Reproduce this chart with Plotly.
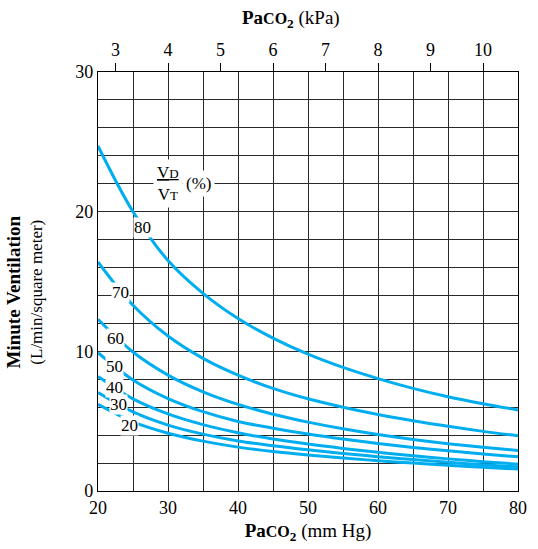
import plotly.graph_objects as go

# Arterial PCO2 (mm Hg) sample points
paco2_mmhg = [20, 25, 30, 35, 40, 45, 50, 55, 60, 65, 70, 75, 80]

# Minute ventilation (L/min/square meter) for each dead-space fraction VD/VT (%)
ve_80 = [24.7, 20.0, 16.5, 14.15, 12.35, 10.95, 9.8, 8.85, 8.05, 7.35, 6.75, 6.25, 5.8]
ve_70 = [16.4, 13.3, 11.1, 9.5, 8.3, 7.35, 6.6, 6.0, 5.48, 5.03, 4.63, 4.27, 3.95]
ve_60 = [12.3, 9.95, 8.3, 7.1, 6.2, 5.5, 4.93, 4.45, 4.04, 3.69, 3.39, 3.13, 2.9]
ve_50 = [9.9, 7.95, 6.62, 5.68, 4.98, 4.5, 4.08, 3.72, 3.4, 3.12, 2.88, 2.65, 2.45]
ve_40 = [8.2, 6.6, 5.52, 4.75, 4.17, 3.72, 3.36, 3.05, 2.77, 2.52, 2.3, 2.1, 1.92]
ve_30 = [7.05, 5.66, 4.72, 4.07, 3.58, 3.24, 2.95, 2.69, 2.46, 2.25, 2.06, 1.88, 1.72]
ve_20 = [6.2, 4.95, 4.14, 3.57, 3.14, 2.82, 2.57, 2.36, 2.17, 2.0, 1.84, 1.7, 1.57]

vd_vt_labels = ["80", "70", "60", "50", "40", "30", "20"]
series = [ve_80, ve_70, ve_60, ve_50, ve_40, ve_30, ve_20]

# Where each curve carries its VD/VT label (mm Hg, L/min/m2)
label_x = [26.3, 23.2, 22.5, 22.4, 22.4, 22.9, 24.5]
label_y = [18.9, 14.2, 10.95, 8.95, 7.4, 6.2, 4.72]

# Secondary axis in kPa
kpa_ticks = [3, 4, 5, 6, 7, 8, 9, 10]
MMHG_PER_KPA = 7.5

mm_ticks = [20, 30, 40, 50, 60, 70, 80]
ve_ticks = [0, 10, 20, 30]

CURVE = "#00AEEF"
GRID = "#2a2a2a"
FONT = "Liberation Serif"
PACO2 = "<b>Pa<span style='font-size:16px'>CO</span><sub>2</sub></b>"

fig = go.Figure()

for vals in series:
    fig.add_trace(go.Scatter(
        x=paco2_mmhg, y=vals, mode="lines",
        line=dict(color=CURVE, width=3, shape="spline", smoothing=1.0),
        hoverinfo="skip", showlegend=False,
    ))

# invisible trace to carry the kPa axis
fig.add_trace(go.Scatter(
    x=[paco2_mmhg[0] / MMHG_PER_KPA, paco2_mmhg[-1] / MMHG_PER_KPA],
    y=[ve_ticks[0], ve_ticks[0]], xaxis="x2", mode="markers",
    marker=dict(opacity=0), hoverinfo="skip", showlegend=False,
))

annotations = []
for txt, lx, ly in zip(vd_vt_labels, label_x, label_y):
    annotations.append(dict(
        x=lx, y=ly, xref="x", yref="y", text=txt, showarrow=False,
        font=dict(family=FONT, size=17, color="black"),
        bgcolor="white", borderpad=0,
    ))

# VD/VT (%) key
annotations.append(dict(
    x=30.0, y=22.0, xref="x", yref="y",
    text="<u>V<span style='font-size:13px'>D</span></u><br>V<span style='font-size:13px'>T</span>",
    showarrow=False, align="center",
    font=dict(family=FONT, size=17, color="black"),
    bgcolor="white", borderpad=3,
))
annotations.append(dict(
    x=34.3, y=22.0, xref="x", yref="y", text="(%)", showarrow=False,
    font=dict(family=FONT, size=17, color="black"),
    bgcolor="white", borderpad=3,
))

# axis titles
annotations.append(dict(
    x=-0.175, y=0.475, xref="paper", yref="paper", textangle=-90,
    text="<span style='font-size:19px'><b>Minute Ventilation</b></span><br>(L/min/square meter)",
    showarrow=False, xanchor="center", yanchor="middle", align="center",
    font=dict(family=FONT, size=17, color="black"),
))
annotations.append(dict(
    x=0.46, y=1.0, xref="paper", yref="paper", yshift=53,
    text=PACO2 + " (kPa)", showarrow=False,
    xanchor="center", yanchor="middle",
    font=dict(family=FONT, size=19, color="black"),
))

fig.update_layout(
    width=538, height=549,
    margin=dict(l=98, r=11, t=72, b=58),
    paper_bgcolor="white", plot_bgcolor="white",
    font=dict(family=FONT, size=18, color="black"),
    showlegend=False,
    annotations=annotations,
    xaxis=dict(
        range=[paco2_mmhg[0], paco2_mmhg[-1]],
        tickmode="array", tickvals=mm_ticks, ticks="",
        showgrid=True, gridcolor=GRID, gridwidth=1,
        minor=dict(dtick=5, tick0=20, showgrid=True, gridcolor=GRID, gridwidth=1),
        showline=True, mirror=True, linecolor="black", linewidth=1.3,
        zeroline=False,
        title=dict(text=PACO2 + " (mm Hg)", font=dict(family=FONT, size=19), standoff=6),
    ),
    xaxis2=dict(
        overlaying="x", side="top",
        range=[paco2_mmhg[0] / MMHG_PER_KPA, paco2_mmhg[-1] / MMHG_PER_KPA],
        tickmode="array", tickvals=kpa_ticks,
        ticks="outside", ticklen=8, tickwidth=1.2, tickcolor="black",
        showgrid=False, showline=False, zeroline=False,
    ),
    yaxis=dict(
        range=[ve_ticks[0], ve_ticks[-1]],
        tick0=0, dtick=10, ticks="",
        showgrid=True, gridcolor=GRID, gridwidth=1,
        minor=dict(dtick=2, tick0=0, showgrid=True, gridcolor=GRID, gridwidth=1),
        showline=True, mirror=True, linecolor="black", linewidth=1.3,
        zeroline=False,
    ),
)

fig.write_html("out.html")
